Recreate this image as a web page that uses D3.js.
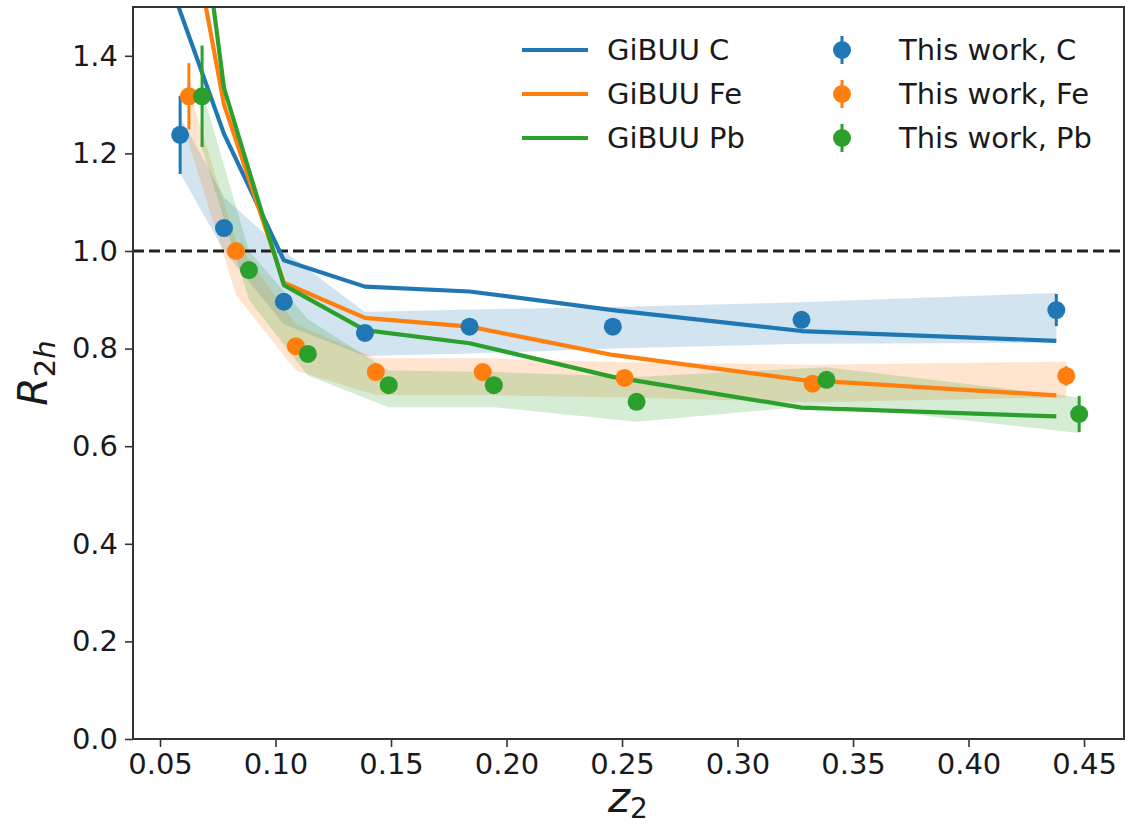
<!DOCTYPE html>
<html>
<head>
<meta charset="utf-8">
<script src="https://cdn.jsdelivr.net/npm/d3@7/dist/d3.min.js"></script>
<style>
  html, body { margin: 0; padding: 0; background: #fff; }
  svg { display: block; font-family: "DejaVu Sans", sans-serif; }
</style>
</head>
<body>
<svg id="chart" width="1125" height="827"></svg>
<script>
// ---------- data ----------
const xTicks = [0.05, 0.10, 0.15, 0.20, 0.25, 0.30, 0.35, 0.40, 0.45];
const yTicks = [0.0, 0.2, 0.4, 0.6, 0.8, 1.0, 1.2, 1.4];

// GiBUU model curves
const gibuuX  = [0.0565, 0.0777, 0.1036, 0.1387, 0.184, 0.246, 0.3277, 0.438];
const gibuuC  = [1.52, 1.24, 0.981, 0.927, 0.917, 0.879, 0.836, 0.816];
const gibuuFe = [1.84, 1.30, 0.935, 0.863, 0.845, 0.787, 0.736, 0.704];
const gibuuPb = [2.11, 1.334, 0.930, 0.838, 0.811, 0.742, 0.679, 0.661];

// This work — data points
const xC   = [0.0587, 0.0777, 0.1036, 0.1387, 0.184, 0.246, 0.3277, 0.438];
const yC   = [1.238, 1.047, 0.896, 0.832, 0.845, 0.845, 0.859, 0.879];
const eC   = [0.080, 0.015, 0.010, 0.010, 0.010, 0.010, 0.015, 0.033];
const loC  = [1.160, 1.000, 0.850, 0.785, 0.790, 0.800, 0.810, 0.812];
const hiC  = [1.275, 1.110, 1.000, 0.875, 0.880, 0.885, 0.895, 0.914];

const xFe  = [0.0625, 0.0829, 0.1088, 0.1434, 0.1897, 0.2511, 0.3325, 0.4423];
const yFe  = [1.317, 1.000, 0.805, 0.752, 0.752, 0.740, 0.728, 0.744];
const eFe  = [0.068, 0.010, 0.010, 0.010, 0.010, 0.010, 0.010, 0.020];
const loFe = [1.220, 0.910, 0.755, 0.705, 0.705, 0.700, 0.690, 0.700];
const hiFe = [1.330, 1.020, 0.850, 0.780, 0.780, 0.772, 0.767, 0.773];

const xPb  = [0.0682, 0.0885, 0.1140, 0.1490, 0.1945, 0.2563, 0.3385, 0.4479];
const yPb  = [1.317, 0.961, 0.789, 0.725, 0.725, 0.691, 0.736, 0.666];
const ePb  = [0.104, 0.015, 0.010, 0.010, 0.010, 0.010, 0.015, 0.037];
const loPb = [1.210, 0.900, 0.745, 0.680, 0.680, 0.650, 0.685, 0.627];
const hiPb = [1.330, 1.000, 0.860, 0.755, 0.752, 0.742, 0.762, 0.700];

const modelLabels = ["GiBUU C", "GiBUU Fe", "GiBUU Pb"];
const dataLabels  = ["This work, C", "This work, Fe", "This work, Pb"];
const colors = ["#1f77b4", "#ff7f0e", "#2ca02c"];

// ---------- layout ----------
const svg = d3.select("#chart");
const L = 133, R = 1124, T = 7, B = 739;
const x = d3.scaleLinear().domain([0.0383, 0.4673]).range([L, R]);
const y = d3.scaleLinear().domain([0, 1.5]).range([B, T]);

svg.append("defs").append("clipPath").attr("id", "clip")
  .append("rect").attr("x", L).attr("y", T).attr("width", R - L).attr("height", B - T);

const plot = svg.append("g").attr("clip-path", "url(#clip)");

const series = [
  {xs: xC,  ys: yC,  es: eC,  lo: loC,  hi: hiC,  model: gibuuC},
  {xs: xFe, ys: yFe, es: eFe, lo: loFe, hi: hiFe, model: gibuuFe},
  {xs: xPb, ys: yPb, es: ePb, lo: loPb, hi: hiPb, model: gibuuPb}
];

// bands
series.forEach((s, k) => {
  const pts = s.xs.map((v, i) => ({x: v, lo: s.lo[i], hi: s.hi[i]}));
  plot.append("path").datum(pts)
    .attr("d", d3.area().x(d => x(d.x)).y0(d => y(d.lo)).y1(d => y(d.hi)))
    .attr("fill", colors[k]).attr("fill-opacity", 0.2).attr("stroke", "none");
});

// reference line
plot.append("line")
  .attr("x1", L).attr("x2", R).attr("y1", y(1)).attr("y2", y(1))
  .attr("stroke", "#222").attr("stroke-width", 3).attr("stroke-dasharray", "11,5");

// model lines
series.forEach((s, k) => {
  const pts = gibuuX.map((v, i) => [v, s.model[i]]);
  plot.append("path").datum(pts)
    .attr("d", d3.line().x(d => x(d[0])).y(d => y(d[1])))
    .attr("fill", "none").attr("stroke", colors[k]).attr("stroke-width", 4.2)
    .attr("stroke-linejoin", "round");
});

// data points
series.forEach((s, k) => {
  const g = plot.append("g");
  s.xs.forEach((v, i) => {
    g.append("line")
      .attr("x1", x(v)).attr("x2", x(v))
      .attr("y1", y(s.ys[i] - s.es[i])).attr("y2", y(s.ys[i] + s.es[i]))
      .attr("stroke", colors[k]).attr("stroke-width", 3);
    g.append("circle").attr("cx", x(v)).attr("cy", y(s.ys[i])).attr("r", 9)
      .attr("fill", colors[k]);
  });
});

// ---------- axes ----------
const fmtX = d3.format(".2f"), fmtY = d3.format(".1f");
const xAxis = svg.append("g").attr("transform", `translate(0,${B})`)
  .call(d3.axisBottom(x).tickValues(xTicks).tickFormat(fmtX).tickSize(8).tickPadding(6).tickSizeOuter(0));
const yAxis = svg.append("g").attr("transform", `translate(${L},0)`)
  .call(d3.axisLeft(y).tickValues(yTicks).tickFormat(fmtY).tickSize(8).tickPadding(7).tickSizeOuter(0));
[xAxis, yAxis].forEach(a => {
  a.select(".domain").remove();
  a.selectAll(".tick line").attr("stroke", "#333").attr("stroke-width", 1.6);
  a.selectAll(".tick text").attr("font-size", 29).attr("fill", "#1a1a1a")
    .attr("font-family", "DejaVu Sans, sans-serif");
});

// frame
svg.append("rect").attr("x", L).attr("y", T).attr("width", R - L).attr("height", B - T)
  .attr("fill", "none").attr("stroke", "#333").attr("stroke-width", 2);

// axis labels
const xl = svg.append("text").attr("x", 628).attr("y", 812).attr("text-anchor", "middle")
  .attr("fill", "#1a1a1a").attr("font-size", 42);
xl.append("tspan").attr("font-style", "italic").text("z");
xl.append("tspan").attr("font-size", 28).attr("dy", 6).text("2");

const yl = svg.append("text").attr("transform", "translate(47,373) rotate(-90)")
  .attr("text-anchor", "middle").attr("fill", "#1a1a1a").attr("font-size", 41);
yl.append("tspan").attr("font-style", "italic").text("R");
yl.append("tspan").attr("font-size", 29).attr("dy", 8).text("2");
yl.append("tspan").attr("font-size", 29).attr("font-style", "italic").text("h");

// ---------- legend ----------
const rows = [50, 94, 138];
const leg = svg.append("g");
rows.forEach((ry, k) => {
  leg.append("line").attr("x1", 522).attr("x2", 588).attr("y1", ry).attr("y2", ry)
    .attr("stroke", colors[k]).attr("stroke-width", 4.2);
  leg.append("text").attr("x", 607).attr("y", ry).attr("dy", "0.36em")
    .attr("font-size", 29).attr("fill", "#1a1a1a").text(modelLabels[k]);
  leg.append("line").attr("x1", 842).attr("x2", 842).attr("y1", ry - 14).attr("y2", ry + 14)
    .attr("stroke", colors[k]).attr("stroke-width", 3);
  leg.append("circle").attr("cx", 842).attr("cy", ry).attr("r", 9).attr("fill", colors[k]);
  leg.append("text").attr("x", 899).attr("y", ry).attr("dy", "0.36em")
    .attr("font-size", 29).attr("fill", "#1a1a1a").text(dataLabels[k]);
});
</script>
</body>
</html>
